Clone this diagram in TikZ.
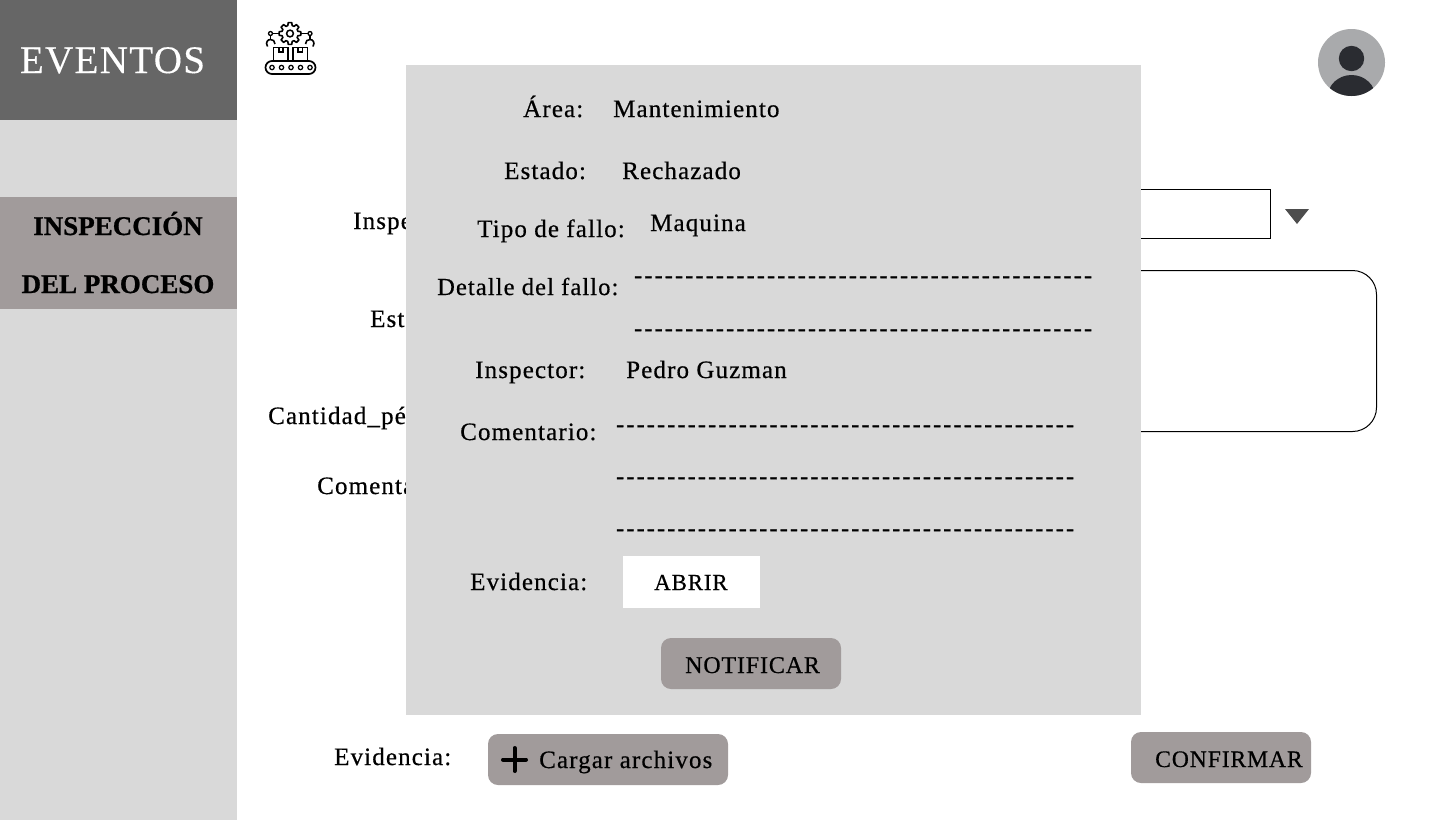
\documentclass[tikz,border=0pt]{standalone}
\usepackage{fontspec}
\setmainfont[LetterSpace=4.5,FakeBold=0.5]{Liberation Serif}
\newfontfamily\capsfont[LetterSpace=3.5,FakeBold=0.5]{Liberation Serif}
\newfontfamily\titlefont[LetterSpace=3.5,FakeBold=0.2]{Liberation Serif}
\newfontfamily\sidefont[LetterSpace=0,FakeBold=0.8]{Liberation Serif}
\newfontfamily\dashfont[LetterSpace=9.3,FakeBold=1]{Liberation Serif}
\usetikzlibrary{calc}
\definecolor{sidegray}{HTML}{D9D9D9}
\definecolor{headgray}{HTML}{666666}
\definecolor{btngray}{HTML}{A19B9B}
\definecolor{avatarbg}{HTML}{A9AAAC}
\definecolor{avatarfg}{HTML}{2A2C31}
\definecolor{arrowgray}{HTML}{4D4D4D}
\tikzset{
  x=1pt,y=-1pt,
  lbl/.style={inner sep=0pt,anchor=base west,font=\fontsize{25}{25}\selectfont,text=black},
  capslbl/.style={inner sep=0pt,anchor=base west,font=\capsfont\fontsize{24}{24}\selectfont,text=black},
  btn/.style={fill=btngray,rounded corners=10pt},
  side/.style={inner sep=0pt,anchor=base,font=\sidefont\fontsize{27}{27}\selectfont\bfseries},
  dashline/.style={inner sep=0pt,anchor=base west,font=\dashfont\fontsize{24}{24}\selectfont},
  ico/.style={draw=black,line width=1.7pt,fill=none},
  icothin/.style={draw=black,line width=1.3pt}
}
\newcommand{\dashes}{-{}-{}-{}-{}-{}-{}-{}-{}-{}-{}-{}-{}-{}-{}-{}-{}-{}-{}-{}-{}-{}-{}-{}-{}-{}-{}-{}-{}-{}-{}-{}-{}-{}-{}-{}-{}-{}-{}-{}-{}-{}-{}-{}-{}-{}}
\begin{document}
\begin{tikzpicture}
\useasboundingbox (0,0) rectangle (1440,820);
\fill[white] (0,0) rectangle (1440,820);
% sidebar
\fill[sidegray] (0,0) rectangle (237,820);
\fill[headgray] (0,0) rectangle (237,120);
\node[inner sep=0pt,anchor=base,text=white,font=\titlefont\fontsize{39}{39}\selectfont] (title) at (112.5,73) {EVENTOS};
\fill[btngray] (0,197) rectangle (237,309);
\node[side] (insp1) at (118,235) {INSPECCIÓN};
\node[side] (insp2) at (118,293) {DEL PROCESO};
% icon
\draw[ico,rounded corners=6.5pt] (265.5,61) rectangle (315.5,74);
\foreach \i in {272,281.5,291,300.5,310}{\draw[icothin,line width=1.2pt] (\i,67.5) circle (2.2);}
\draw[ico,line width=1.5pt] (273.5,61) -- (273.5,47.5) -- (288,47.5) -- (288,61);
\draw[ico,line width=1.5pt] (293,61) -- (293,47.5) -- (307.5,47.5) -- (307.5,61);
\draw[icothin,line width=1.2pt] (279,47.5) -- (279,52) -- (283,52) -- (283,47.5);
\draw[icothin,line width=1.2pt] (298,47.5) -- (298,52) -- (302.5,52) -- (302.5,47.5);
\begin{scope}[shift={(290,33.5)}]
\draw[icothin,line width=1.6pt,line join=round]
  (0:11)
  \foreach \a in {0,45,...,315}{ -- (\a+9:11) -- (\a+16:8.2) -- (\a+29:8.2) -- (\a+36:11)} -- cycle;
\draw[icothin,line width=1.5pt] (0,0) circle (3.4);
\end{scope}
\draw[icothin] (279.5,33.5) -- (272.5,33.5);
\draw[icothin] (300.5,33.5) -- (308,33.5);
\draw[icothin,fill=white] (270.5,33.5) circle (2);
\draw[icothin,fill=white] (310,33.5) circle (2);
\draw[icothin] (270.5,35.5) -- (270.5,39.5) (310,35.5) -- (310,39.5);
\draw[icothin,line width=1.6pt] (267.5,46.5) .. controls (265,42) and (268,39.5) .. (270.5,39.5) .. controls (273,39.5) and (275,41) .. (275,44);
\draw[icothin,line width=1.6pt] (313,46.5) .. controls (315.5,42) and (312.5,39.5) .. (310,39.5) .. controls (307.5,39.5) and (305.5,41) .. (305.5,44);
% avatar
\fill[avatarbg] (1351.5,62.5) circle (33.5);
\begin{scope}
\clip (1351.5,62.5) circle (33.5);
\fill[avatarfg] (1351.5,58.5) circle (12.7);
\fill[avatarfg] (1351.5,97.5) ellipse (24 and 22.5);
\end{scope}
% background form
\node[lbl] (l1) at (353,229) {Inspección:};
\node[lbl] (l2) at (370,327) {Estado:};
\node[lbl] (l3) at (268,424) {Cantidad\_pérdida:};
\node[lbl] (l4) at (317,494) {Comentario:};
\draw[black,line width=1pt] (1100,189) rectangle (1270.5,238.5);
\fill[arrowgray] (1285,209) -- (1309,209) -- (1297,224) -- cycle;
\draw[black,line width=1pt,rounded corners=24pt] (1100,270.5) rectangle (1376.5,431.5);
\node[lbl] (ev) at (334,765) {Evidencia:};
\fill[btn] (488,734) rectangle (728,785);
\draw[black,line width=4pt,line cap=round] (503,759.5) -- (526,759.5) (514.5,748) -- (514.5,771);
\node[lbl] (carg) at (539,768) {Cargar archivos};
\fill[btn] (1131,732) rectangle (1311,783);
\node[capslbl,font=\capsfont\fontsize{23.7}{24}\selectfont] (conf) at (1155,767) {CONFIRMAR};
% modal
\fill[sidegray] (406,65) rectangle (1141,715);
\node[lbl] (a1) at (523,117) {Área:};
\node[lbl] (a2) at (613,117) {Mantenimiento};
\node[lbl] (b1) at (504,179) {Estado:};
\node[lbl] (b2) at (622,179) {Rechazado};
\node[lbl] (c1) at (477,237) {Tipo de fallo:};
\node[lbl] (c2) at (650,231) {Maquina};
\node[lbl,font=\fontsize{24.5}{25}\selectfont] (d1) at (437,295) {Detalle del fallo:};
\node[dashline] (d2) at (634,283) {\dashes};
\node[dashline] (d3) at (634,336) {\dashes};
\node[lbl] (e1) at (475,378) {Inspector:};
\node[lbl] (e2) at (626,378) {Pedro Guzman};
\node[lbl] (f1) at (460,440) {Comentario:};
\node[dashline] (f2) at (616,432) {\dashes};
\node[dashline] (f3) at (616,484) {\dashes};
\node[dashline] (f4) at (616,536) {\dashes};
\node[lbl] (g1) at (470,590) {Evidencia:};
\fill[white] (623,556) rectangle (760,608);
\node[capslbl,font=\capsfont\fontsize{23}{23}\selectfont] (g2) at (654,590) {ABRIR};
\fill[btn] (661,638) rectangle (841,689);
\node[capslbl] (n) at (685,673) {NOTIFICAR};
\end{tikzpicture}
\end{document}
